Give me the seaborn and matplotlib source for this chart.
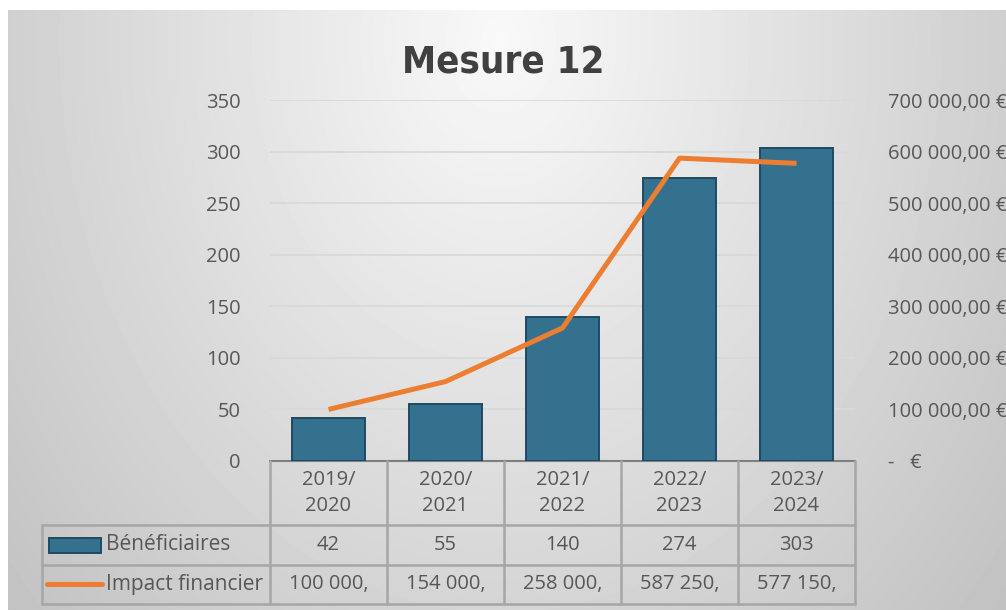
import numpy as np
import pandas as pd
import matplotlib
matplotlib.use("Agg")
import matplotlib.pyplot as plt
import matplotlib.transforms as mtransforms
import seaborn as sns

# ---- data ----
seasons = ["2019/\n2020", "2020/\n2021", "2021/\n2022", "2022/\n2023", "2023/\n2024"]
beneficiaires = [42, 55, 140, 274, 303]
impact = [100000, 154000, 258000, 587250, 577150]
impact_labels = ["100 000,", "154 000,", "258 000,", "587 250,", "577 150,"]
title = "Mesure 12"
series_names = ["Bénéficiaires", "Impact financier"]

sns.set_theme(style="white")
plt.rcParams["font.family"] = ["Open Sans", "DejaVu Sans"]

TXT = "#575757"
BAR = "#33718F"
BAR_EDGE = "#1E4A62"
LINE = "#ED7D31"
GRID = "#D9D9D9"
TBL = "#A6A6A6"
FS = 14.5

W, H = 1006, 610
fig = plt.figure(figsize=(W / 100, H / 100), dpi=100)
fig.patch.set_facecolor("white")

# background gradient (decoration)
bg = fig.add_axes([0, 0, 1, 1], zorder=-10)
yy, xx = np.mgrid[0:H, 0:W]
d = np.sqrt(((xx - 500) / 540.0) ** 2 + ((yy - 40) / 700.0) ** 2)
val = np.clip(0.975 - 0.175 * d, 0.0, 1.0)
val[:10, :] = 1.0
val[:, :8] = 1.0
bg.imshow(val, cmap="gray", vmin=0, vmax=1, extent=(0, W, H, 0), aspect="auto", interpolation="bilinear")
bg.set_xlim(0, W)
bg.set_ylim(H, 0)
bg.axis("off")

# main axes
x0, x1, ytop, ybot = 270, 855, 100, 461
ax = fig.add_axes([x0 / W, (H - ybot) / H, (x1 - x0) / W, (ybot - ytop) / H])
ax.patch.set_alpha(0)

df = pd.DataFrame({"season": seasons, "benef": beneficiaires, "impact": impact})
sns.barplot(data=df, x="season", y="benef", ax=ax, color=BAR, width=0.62,
            edgecolor=BAR_EDGE, linewidth=1.4, saturation=1, zorder=3)
ax.set_xlim(-0.5, len(seasons) - 0.5)
ax.set_ylim(0, 350)
ax.set_yticks(range(0, 351, 50))
ax.yaxis.grid(True, color=GRID, linewidth=1.3, zorder=0)
ax.set_axisbelow(True)
ax.set_xlabel("")
ax.set_ylabel("")
ax.set_xticks([])
for s in ["top", "right", "left"]:
    ax.spines[s].set_visible(False)
ax.spines["bottom"].set_color("#7F7F7F")
ax.spines["bottom"].set_linewidth(1.5)
ax.tick_params(axis="y", length=0, pad=21, labelsize=FS, labelcolor=TXT)

ax2 = ax.twinx()
sns.lineplot(data=df, x="season", y="impact", ax=ax2, color=LINE, linewidth=3.6,
             sort=False, zorder=4)
ax2.lines[0].set_solid_capstyle("butt")
ax2.set_ylim(0, 700000)
ax2.set_yticks(range(0, 700001, 100000))

def eur(v):
    if v == 0:
        return "-   €"
    return f"{int(v):,}".replace(",", " ") + ",00 €"

ax2.set_yticklabels([eur(v) for v in ax2.get_yticks()])
ax2.tick_params(axis="y", length=0, pad=24, labelsize=FS, labelcolor=TXT)
ax2.set_ylabel("")
ax2.set_xlabel("")
for s in ["top", "right", "left", "bottom"]:
    ax2.spines[s].set_visible(False)
ax2.set_xlim(-0.5, len(seasons) - 0.5)

fig.text(0.5, 1 - 63 / H, title, ha="center", va="center", fontsize=27.5,
         fontweight="bold", fontstretch="condensed", color="#404040",
         family=["DejaVu Sans"])

# ---- data table below the axes ----
tr = mtransforms.blended_transform_factory(ax.transData, ax.transAxes)
hpx = ybot - ytop
def fy(py):
    return -(py - ybot) / hpx

r0, r1, r2, r3 = fy(461), fy(525), fy(565), fy(604)
n = len(seasons)
left = -0.5 - (x0 - 42) / ((x1 - x0) / n)
kw = dict(color=TBL, linewidth=1.8, transform=tr, clip_on=False, zorder=5)
for i in range(n + 1):
    ax.plot([i - 0.5, i - 0.5], [r0, r3], **kw)
ax.plot([left, left], [r1, r3], **kw)
for r in (r1, r2, r3):
    ax.plot([left, n - 0.5], [r, r], **kw)

tkw = dict(transform=tr, ha="center", va="center", fontsize=FS, color=TXT, clip_on=False)
for i, s in enumerate(seasons):
    ax.text(i, (r0 + r1) / 2, s, linespacing=1.4, **tkw)
    ax.text(i, (r1 + r2) / 2, str(beneficiaires[i]), **tkw)
    ax.text(i, (r2 + r3) / 2, impact_labels[i], **tkw)

# legend keys in the table
cat_px = (x1 - x0) / n
def dx(px):
    return -0.5 - (x0 - px) / cat_px
ax.add_patch(plt.Rectangle((dx(49), fy(553)), dx(101) - dx(49), fy(538) - fy(553),
                           facecolor=BAR, edgecolor=BAR_EDGE, linewidth=1.4,
                           transform=tr, clip_on=False, zorder=6))
ax.plot([dx(47), dx(102)], [fy(584), fy(584)], color=LINE, linewidth=3.6,
        solid_capstyle="round", transform=tr, clip_on=False, zorder=6)
ax.text(dx(106), (r1 + r2) / 2, series_names[0], transform=tr, ha="left", va="center",
        fontsize=FS + 0.5, color=TXT, clip_on=False)
ax.text(dx(106), (r2 + r3) / 2, series_names[1], transform=tr, ha="left", va="center",
        fontsize=FS + 0.5, color=TXT, clip_on=False)

fig.savefig("out.png", dpi=100)
